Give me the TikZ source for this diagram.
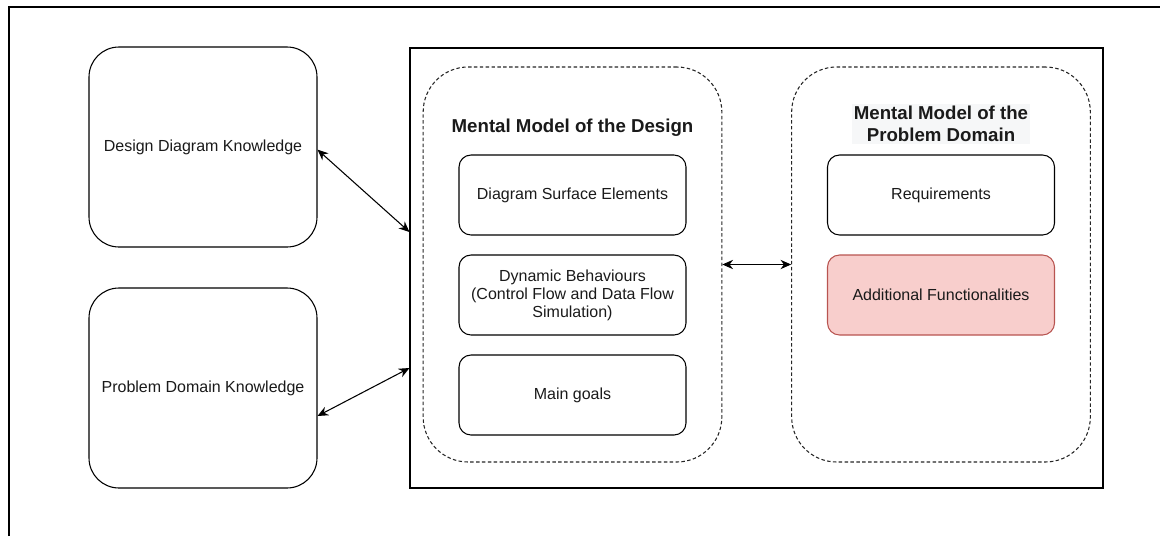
\documentclass[tikz,border=0pt]{standalone}
\usepackage{fontspec}
\setmainfont{Liberation Sans}
\usetikzlibrary{arrows.meta}
\definecolor{txt}{HTML}{1A1A1A}
\definecolor{redfill}{HTML}{F8CECC}
\definecolor{redline}{HTML}{B85450}
\definecolor{titlebg}{HTML}{F6F7F8}
\begin{document}
\begin{tikzpicture}[x=0.75pt,y=-0.75pt,
  every node/.style={text=txt, font=\fontsize{12}{13.5}\selectfont},
  bigbox/.style={draw=black, line width=0.8pt, rounded corners=22.5pt,
    minimum width=171pt, minimum height=150pt, inner sep=0pt},
  innerbox/.style={draw=black, line width=0.8pt, rounded corners=9pt,
    minimum width=170.25pt, minimum height=60pt, inner sep=0pt, align=center},
  groupbox/.style={draw=black!85, line width=0.8pt, dash pattern=on 2.6pt off 1.8pt,
    rounded corners=33.75pt, minimum width=224pt, minimum height=296.25pt, inner sep=0pt},
  title/.style={font=\bfseries\fontsize{14}{16.5}\selectfont, align=center, inner sep=1.5pt},
  link/.style={line width=0.8pt, {Stealth[length=8pt,width=7pt]}-{Stealth[length=8pt,width=7pt]}}
]
\useasboundingbox (0,0) rectangle (1160,536);
% frame lines along the top and left
\draw[line width=1pt] (9,536) -- (9,7) -- (1160,7);

% knowledge boxes on the left
\node[bigbox] (ddk) at (203,147) {Design Diagram Knowledge};
\node[bigbox] (pdk) at (203,388) {Problem Domain Knowledge};

% enclosing rectangle of both mental models
\node[draw=black, line width=0.8pt, minimum width=519.75pt, minimum height=330pt, inner sep=0pt]
  (main) at (756.5,268) {};

% mental model of the design
\node[groupbox] (mmd) at (572.5,264.5) {};
\node[title] (mmdt) at (572.5,128) {Mental Model of the Design};
\node[innerbox] (dse) at (572.5,195) {Diagram Surface Elements};
\node[innerbox] (dyn) at (572.5,295) {Dynamic Behaviours\\(Control Flow and Data Flow\\Simulation)};
\node[innerbox] (goals) at (572.5,395) {Main goals};

% mental model of the problem domain
\node[groupbox] (mmp) at (941,264.5) {};
\node[title, fill=titlebg] (mmpt) at (941,124) {Mental Model of the\\Problem Domain};
\node[innerbox] (req) at (941,195) {Requirements};
\node[innerbox, fill=redfill, draw=redline] (addf) at (941,295) {Additional Functionalities};

% connectors
\draw[link] ([yshift=-2pt]ddk.east) -- ([yshift=27pt]main.west);
\draw[link] ([yshift=-21pt]pdk.east) -- ([yshift=-75pt]main.west);
\draw[link] (mmd.east) -- (mmp.west);
\end{tikzpicture}
\end{document}
